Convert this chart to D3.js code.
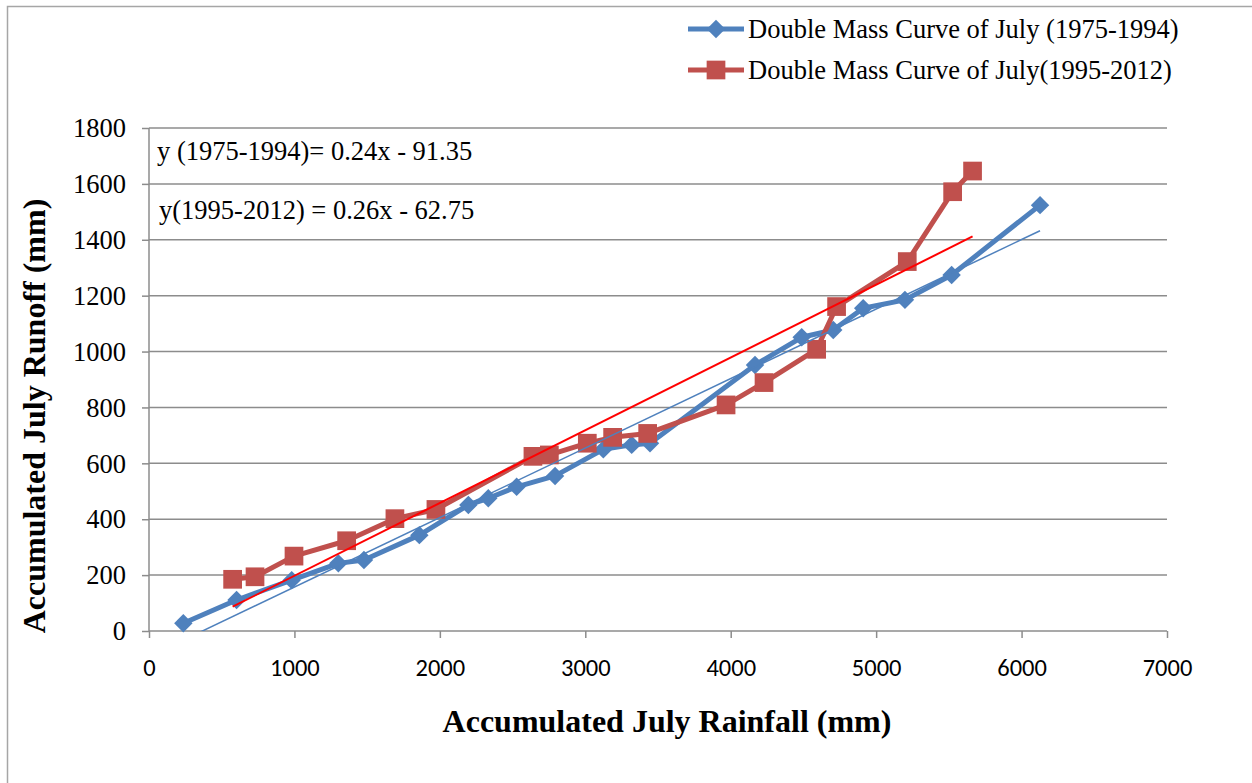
<!DOCTYPE html>
<html>
<head>
<meta charset="utf-8">
<script src="https://cdn.jsdelivr.net/npm/d3@7"></script>
<style>
  html, body { margin: 0; padding: 0; background: #fff; }
  svg { display: block; }
</style>
</head>
<body>
<svg id="chart" width="1252" height="783"></svg>
<script>
// ---- data ----
const seriesNames = ["Double Mass Curve of July (1975-1994)", "Double Mass Curve of July(1995-2012)"];
const blueRain = [236, 602, 981, 1302, 1478, 1859, 2196, 2333, 2528, 2792, 3124, 3319, 3445, 4167, 4488, 4705, 4911, 5198, 5519, 6127];
const blueRunoff = [28, 111, 182, 242, 254, 343, 451, 475, 516, 555, 650, 666, 672, 952, 1051, 1077, 1155, 1185, 1274, 1524];
const redRain = [575, 729, 997, 1359, 1691, 1973, 2640, 2753, 3014, 3188, 3429, 3968, 4229, 4591, 4728, 5214, 5526, 5663];
const redRunoff = [185, 194, 268, 323, 402, 435, 625, 630, 672, 693, 707, 809, 889, 1008, 1161, 1322, 1572, 1646];
const trendBlue = [0.2487, -91.35];   // slope, intercept
const trendRed = [0.2604, -62.75];
const equations = ["y (1975-1994)= 0.24x - 91.35", "y(1995-2012) = 0.26x - 62.75"];
const xTicks = [0, 1000, 2000, 3000, 4000, 5000, 6000, 7000];
const yTicks = [0, 200, 400, 600, 800, 1000, 1200, 1400, 1600, 1800];
const xTitle = "Accumulated July Rainfall (mm)";
const yTitle = "Accumulated July Runoff (mm)";

// ---- layout ----
const svg = d3.select("#chart");
const L = 149, R = 1167, T = 128, B = 631;
const x = d3.scaleLinear().domain([0, 7000]).range([L, R]);
const y = d3.scaleLinear().domain([0, 1800]).range([B, T]);
const blue = "#4F81BD", red = "#C0504D", grid = "#8c8c8c";
const serif = "'Liberation Serif', 'Times New Roman', serif";
const sans = "Carlito, Calibri, 'Open Sans', sans-serif";

// outer border
svg.append("rect").attr("x", 7.5).attr("y", 6.5).attr("width", 1260).attr("height", 800)
  .attr("fill", "none").attr("stroke", "#a6a6a6").attr("stroke-width", 1.5);

// gridlines
svg.append("g").selectAll("line").data(yTicks.filter(d => d > 0)).join("line")
  .attr("x1", L).attr("x2", R).attr("y1", d => y(d)).attr("y2", d => y(d))
  .attr("stroke", grid).attr("stroke-width", 1.5);

// x axis
const xAxis = svg.append("g").attr("transform", `translate(0,${B})`)
  .call(d3.axisBottom(x).tickValues(xTicks).tickSize(7).tickFormat(d3.format("d")));
xAxis.select(".domain").attr("stroke", grid).attr("stroke-width", 1.5).attr("d", `M${L},0H${R}`);
xAxis.selectAll(".tick line").attr("stroke", grid).attr("stroke-width", 1.5);
xAxis.selectAll(".tick text").attr("font-family", sans).attr("font-size", 24.5).attr("fill", "#000")
  .attr("y", 0).attr("dy", null).attr("transform", "translate(0,45)");

// y axis
const yAxis = svg.append("g").attr("transform", `translate(${L},0)`)
  .call(d3.axisLeft(y).tickValues(yTicks).tickSize(7).tickFormat(d3.format("d")));
yAxis.select(".domain").attr("stroke", grid).attr("stroke-width", 1.5).attr("d", `M0,${T}V${B}`);
yAxis.selectAll(".tick line").attr("stroke", grid).attr("stroke-width", 1.5);
yAxis.selectAll(".tick text").attr("font-family", serif).attr("font-size", 26.5).attr("fill", "#000")
  .attr("x", -23).attr("dy", "0.33em");

// clip for trendlines
svg.append("clipPath").attr("id", "plotclip").append("rect")
  .attr("x", L).attr("y", T).attr("width", R - L).attr("height", B - T);

// series (diamond = square rotated 45deg, as in the spreadsheet marker)
const series = [
  { xs: blueRain, ys: blueRunoff, color: blue, size: 170, rot: 45 },
  { xs: redRain, ys: redRunoff, color: red, size: 350, rot: 0 }
];
const line = d3.line().x(d => x(d[0])).y(d => y(d[1]));
series.forEach(s => {
  const pts = s.xs.map((v, i) => [v, s.ys[i]]);
  const g = svg.append("g");
  g.append("path").datum(pts).attr("d", line).attr("fill", "none")
    .attr("stroke", s.color).attr("stroke-width", 5).attr("stroke-linejoin", "round");
  g.selectAll("path.m").data(pts).join("path").attr("class", "m")
    .attr("transform", d => `translate(${x(d[0])},${y(d[1])}) rotate(${s.rot})`)
    .attr("d", d3.symbol(d3.symbolSquare, s.size)).attr("fill", s.color);
});

// trendlines
const trends = [
  { c: trendBlue, xs: blueRain, color: blue, w: 1.5 },
  { c: trendRed, xs: redRain, color: "#FF0000", w: 2 }
];
trends.forEach(t => {
  const x0 = d3.min(t.xs), x1 = d3.max(t.xs);
  svg.append("line").attr("clip-path", "url(#plotclip)")
    .attr("x1", x(x0)).attr("y1", y(t.c[0] * x0 + t.c[1]))
    .attr("x2", x(x1)).attr("y2", y(t.c[0] * x1 + t.c[1]))
    .attr("stroke", t.color).attr("stroke-width", t.w);
});

// equations
svg.append("text").attr("x", 157).attr("y", 160).attr("font-family", serif).attr("font-size", 26.5)
  .text(equations[0]);
svg.append("text").attr("x", 159).attr("y", 219).attr("font-family", serif).attr("font-size", 26.5)
  .text(equations[1]);

// axis titles
svg.append("text").attr("x", 667).attr("y", 732).attr("text-anchor", "middle")
  .attr("font-family", serif).attr("font-weight", "bold").attr("font-size", 32).text(xTitle);
svg.append("text").attr("transform", "translate(45,416) rotate(-90)").attr("text-anchor", "middle")
  .attr("font-family", serif).attr("font-weight", "bold").attr("font-size", 32).text(yTitle);

// legend
const legY = [29, 70];
series.forEach((s, i) => {
  const g = svg.append("g").attr("transform", `translate(0,${legY[i]})`);
  g.append("line").attr("x1", 688).attr("x2", 744).attr("y1", 0).attr("y2", 0)
    .attr("stroke", s.color).attr("stroke-width", 5);
  g.append("path").attr("transform", `translate(716,0) rotate(${s.rot})`)
    .attr("d", d3.symbol(d3.symbolSquare, s.size)).attr("fill", s.color);
  g.append("text").attr("x", 748).attr("y", 9).attr("font-family", serif).attr("font-size", 26.5)
    .text(seriesNames[i]);
});
</script>
</body>
</html>
